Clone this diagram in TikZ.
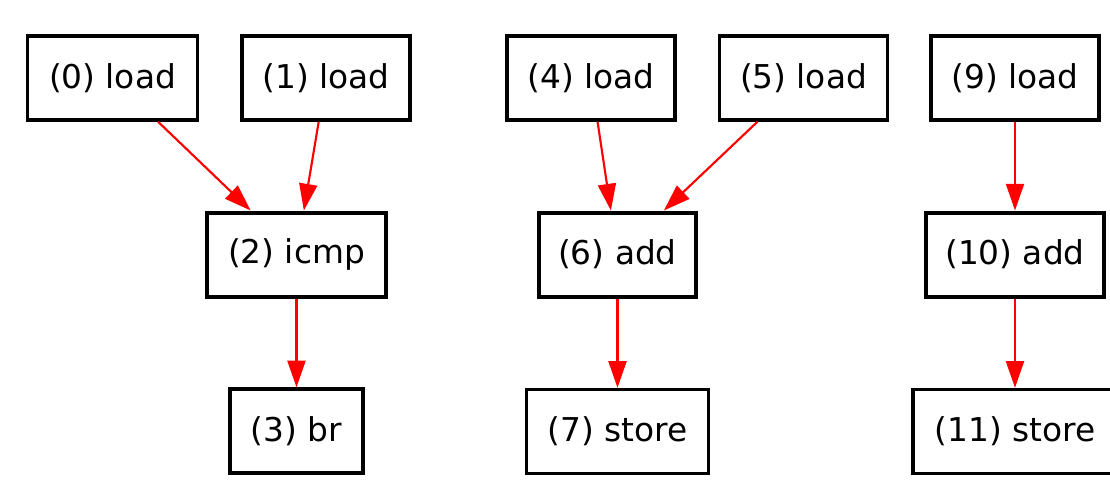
\documentclass[tikz,border=0pt]{standalone}
\usepackage{fontspec}
\setmainfont{DejaVu Sans}
\usetikzlibrary{arrows.meta}
\tikzset{
  opbox/.style 2 args={draw=black, line width=2.5pt, rectangle, inner sep=0pt,
    minimum width=#1*0.75pt, minimum height=#2*0.75pt,
    font=\fontsize{24.6}{29}\selectfont},
  midbox/.style 2 args={opbox={#1}{#2}, line width=3pt},
  dep/.style={draw=red, line width=1.6pt,
    -{Triangle[length=20pt, width=13.5pt]}}
}
\begin{document}
\begin{tikzpicture}[x=0.75pt, y=-0.75pt]
\useasboundingbox (0,0) rectangle (1110,492);
\node[opbox={170}{84}] (n0) at (112.5,78) {(0) load};
\node[opbox={168}{84}] (n1) at (326,78) {(1) load};
\node[midbox={179}{84}] (n2) at (296.5,254.5) {(2) icmp};
\node[opbox={133}{84}] (n3) at (296.5,431) {(3) br};
\node[opbox={168}{84}] (n4) at (591,78) {(4) load};
\node[opbox={168}{84}] (n5) at (803.5,78) {(5) load};
\node[midbox={157}{84}] (n6) at (617.5,254.5) {(6) add};
\node[opbox={182}{84}] (n7) at (617.5,431.5) {(7) store};
\node[opbox={168}{84}] (n9) at (1015,78) {(9) load};
\node[midbox={178}{84}] (n10) at (1015,254.5) {(10) add};
\node[opbox={204}{84}] (n11) at (1015,431.5) {(11) store};
\draw[dep] (n0) -- (n2);
\draw[dep] (n1) -- (n2);
\draw[dep] (n2) -- (n3);
\draw[dep] (n4) -- (n6);
\draw[dep] (n5) -- (n6);
\draw[dep] (n6) -- (n7);
\draw[dep] (n9) -- (n10);
\draw[dep] (n10) -- (n11);
\end{tikzpicture}
\end{document}
